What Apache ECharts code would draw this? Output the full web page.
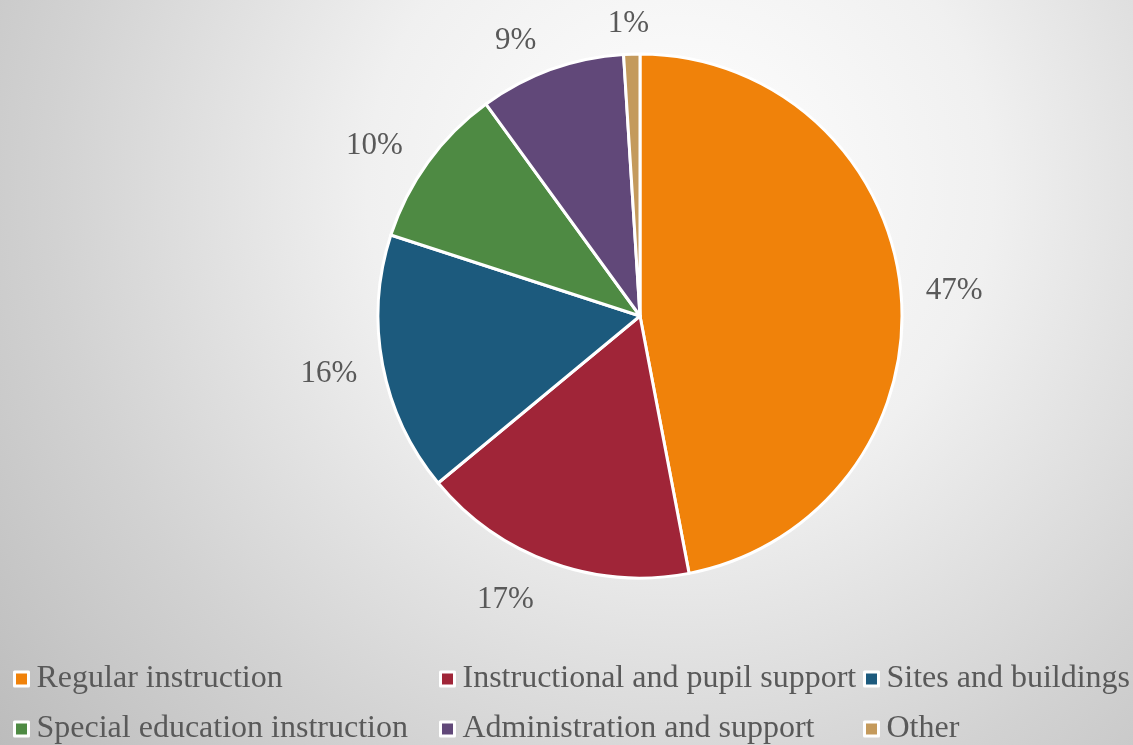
<!DOCTYPE html>
<html>
<head>
    <meta charset="utf-8">
    <title>ECharts</title>
    <script src="https://cdn.jsdelivr.net/npm/echarts@6/dist/echarts.min.js"></script>
    <style>
        html, body { margin: 0; padding: 0; }
    </style>
</head>
<body>
    <div id="main" style="width: 1133px;height:745px;"></div>
    <script type="text/javascript">
        // data
        var categories = ['Regular instruction', 'Instructional and pupil support', 'Sites and buildings',
            'Special education instruction', 'Administration and support', 'Other'];
        var shares = [47, 17, 16, 10, 9, 1];
        var colors = ['#F0820A', '#A02538', '#1C5A7D', '#4E8A43', '#614879', '#C49A5C'];

        var myChart = echarts.init(document.getElementById('main'));

        var CX = 640, CY = 316, R = 262, GAP = 24;
        var total = shares.reduce(function (a, b) { return a + b; }, 0);

        // excel-ish "outside end" label placement
        function placeLabel(p) {
            var before = 0;
            for (var i = 0; i < p.dataIndex; i++) before += shares[i];
            var mid = (before + shares[p.dataIndex] / 2) / total * Math.PI * 2;
            var dx = Math.sin(mid), dy = -Math.cos(mid);
            var hw = p.labelRect.width / 2, hh = p.labelRect.height / 2;
            var d = R + GAP;
            var sx = (dx < 0 ? -1 : 1) * hw * Math.min(1, Math.abs(dx) * 3) * (1 + 0.35 * Math.abs(dy));
            return {
                x: CX + dx * d + sx,
                y: CY + dy * d + dy * hh * 0.6 + 3 + (dy > 0.5 ? 3 : 0),
                align: 'center',
                verticalAlign: 'middle'
            };
        }

        var font = "'Liberation Serif', 'Times New Roman', serif";
        // one legend per item, 3 columns x 2 rows like the original
        var colLeft = [8, 434, 858];
        var rowTop = [658, 708];

        var legends = categories.map(function (c, i) {
            return {
                orient: 'horizontal',
                left: colLeft[i % 3],
                top: rowTop[Math.floor(i / 3)],
                itemWidth: 14,
                itemHeight: 14,
                icon: 'rect',
                selectedMode: false,
                itemStyle: { borderColor: '#fff', borderWidth: 3 },
                textStyle: { fontFamily: font, fontSize: 32, lineHeight: 32, color: '#595959', padding: [0, 0, 0, 3] },
                data: [c]
            };
        });

        var option = {
            backgroundColor: {
                type: 'radial', x: 0.6, y: 0.25, r: 1.2,
                colorStops: [
                    { offset: 0, color: '#ffffff' },
                    { offset: 0.35, color: '#f0f0f0' },
                    { offset: 0.7, color: '#d2d2d2' },
                    { offset: 1, color: '#bbbbbb' }
                ]
            },
            color: colors,
            animation: false,
            legend: legends,
            series: [{
                type: 'pie',
                center: [CX, CY],
                radius: R,
                startAngle: 90,
                avoidLabelOverlap: false,
                itemStyle: { borderColor: '#fff', borderWidth: 3 },
                label: {
                    show: true,
                    position: 'outside',
                    formatter: '{c}%',
                    fontFamily: font,
                    fontSize: 31,
                    color: '#595959'
                },
                labelLine: { show: false },
                labelLayout: placeLabel,
                emphasis: { disabled: true },
                data: categories.map(function (c, i) {
                    return { name: c, value: shares[i] };
                })
            }]
        };

        myChart.setOption(option);
    </script>
</body>
</html>
